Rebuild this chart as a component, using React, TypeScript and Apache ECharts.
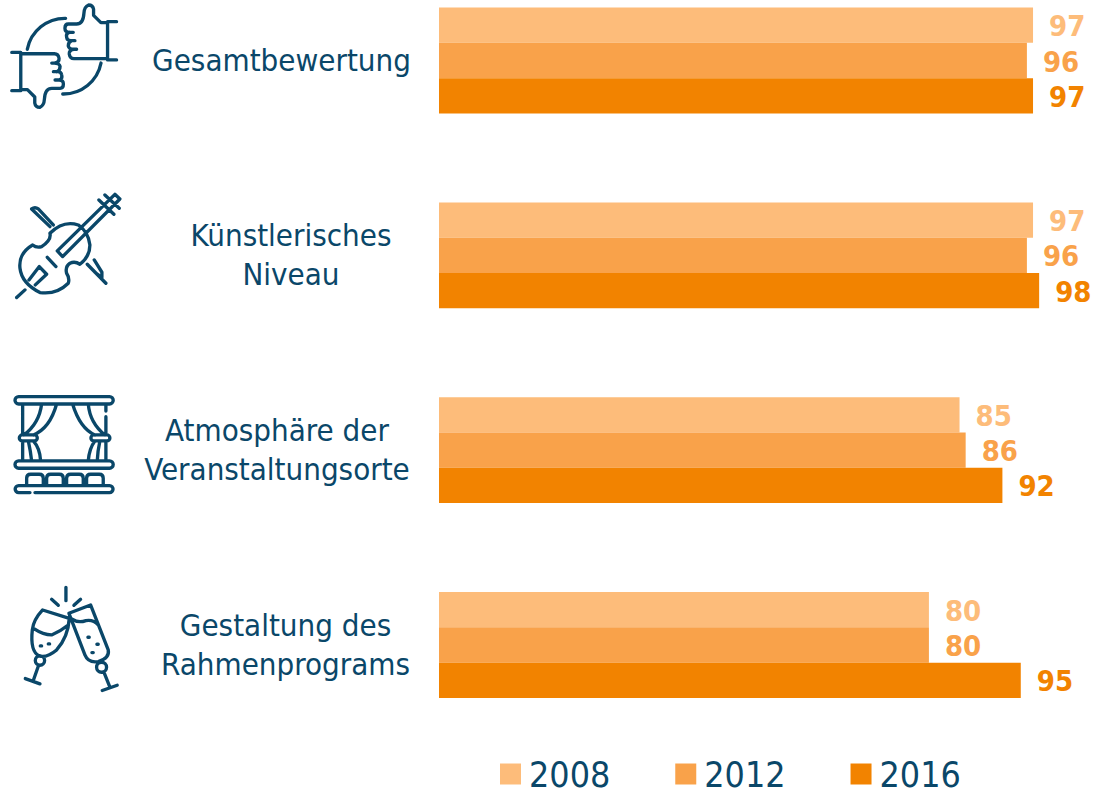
import React, { useEffect, useRef } from "react";
import * as echarts from "echarts";

const categories = [
  "Gesamtbewertung",
  "Künstlerisches\nNiveau",
  "Atmosphäre der\nVeranstaltungsorte",
  "Gestaltung des\nRahmenprograms",
];
const years = ["2008", "2012", "2016"];
const values2008 = [97, 97, 85, 80];
const values2012 = [96, 96, 86, 80];
const values2016 = [97, 98, 92, 95];
const seriesValues = [values2008, values2012, values2016];
const colors = ["#FDBC7A", "#F9A24A", "#F28300"];
const ink = "#0A4769";
const font = "'DejaVu Sans Condensed', 'DejaVu Sans', sans-serif";
const labelWidths = [257, 238, 266, 249];

const thumb =
  "M82 148A115 115 0 0 1 197 55M350 65H323V180H350M323 68H303L281 46V28Q279 15 266 15Q253 20 252 40Q250 72 230 72H205Q195 72 195 85Q195 97 208 97H220M208 97Q197 100 200 112Q202 124 215 122H225M215 122Q205 126 205 138Q207 148 222 148H230M222 148Q207 150 208 162Q210 176 222 176H323";
const violin =
  "M150 145Q155 165 125 185Q110 190 98 180Q55 205 60 250Q65 295 120 323Q170 330 205 295Q210 280 200 265Q195 245 210 235Q225 228 240 238Q270 215 270 180Q265 140 235 120Q190 105 150 145ZM172 198L345 28L360 42L188 215ZM297 45L342 88M315 30L358 70M75 315L50 338M142 217L168 245M87 285L118 245L140 268L106 300M160 120L115 72Q105 65 95 72L150 125M262 238L318 295M283 225L306 262V278L285 262";
const stage =
  "M56 35H329A11 11 0 0 1 329 57H56A11 11 0 0 1 56 35ZM56 228H329A11 11 0 0 1 329 250H56A11 11 0 0 1 56 228ZM105 302H329A10 10 0 0 1 329 323H105M90 323H56A10 10 0 0 1 56 302H105M68 57V150M318 57V78M318 95V150M68 168V228M318 168V228M125 57Q118 115 72 150M170 57Q150 130 100 150M67 150H103A9 9 0 0 1 103 168H67A9 9 0 0 1 67 150ZM85 168Q92 200 95 228M100 168Q120 190 122 228M218 57Q240 130 285 150M265 57Q270 115 315 150M282 150H321A9 9 0 0 1 321 168H282A9 9 0 0 1 282 150ZM300 168Q293 200 292 228M285 168Q268 190 265 228M80 302V280Q80 268 92 268H118Q130 268 130 280V302M140 302V280Q140 268 152 268H178Q190 268 190 280V302M200 302V280Q200 268 212 268H238Q250 268 250 280V302M260 302V280Q260 268 272 268H298Q310 268 310 280V302";
const glasses =
  "M128 90L208 115Q205 170 170 210Q140 235 118 228Q90 215 97 150Q100 120 128 90ZM103 147Q130 165 155 165Q180 155 205 135M106 242a14 14 0 1 0 28 0a14 14 0 1 0 -28 0M116 256L100 302M76 296L120 312M121 198h4M145 192h4M207 100L272 75L325 210Q330 235 295 245Q265 250 255 225ZM218 118Q235 130 258 122Q280 118 295 135M290 262a15 15 0 1 0 30 0a15 15 0 1 0 -30 0M312 277L330 322M307 332L352 316M264 172h4M291 193h4M276 218h4M198 22V62M155 58L175 76M242 58L222 76";

echarts.graphic.registerShape("iconThumb", echarts.graphic.extendPath(thumb, {}));
echarts.graphic.registerShape("iconViolin", echarts.graphic.extendPath(violin, {}));
echarts.graphic.registerShape("iconStage", echarts.graphic.extendPath(stage, {}));
echarts.graphic.registerShape("iconGlasses", echarts.graphic.extendPath(glasses, {}));

export default function App() {
  const ref = useRef<HTMLDivElement>(null);
  useEffect(() => {
    document.body.style.margin = "0";
    const chart = echarts.init(ref.current!, undefined, { renderer: "svg" });
    const stroke = { fill: "none", stroke: ink, lineWidth: 10, lineCap: "round", lineJoin: "round" };
    const icon = (type: string, x: number, y: number, rotation = 0) => ({
      type, x, y, rotation, scaleX: 1 / 3, scaleY: 1 / 3, style: stroke, silent: true,
    });
    const rich: Record<string, any> = {};
    labelWidths.forEach((w, i) => {
      rich["r" + i] = {
        width: w, align: "center", fontFamily: font, fontSize: 31, lineHeight: 39, color: ink,
      };
    });
    chart.setOption({
      animation: false,
      grid: { left: 439, top: 60.5, width: 612.4, height: 584.5 },
      xAxis: { type: "value", min: 0, max: 100, show: false },
      yAxis: {
        type: "category",
        inverse: true,
        boundaryGap: false,
        data: categories,
        axisLine: { show: false },
        axisTick: { show: false },
        axisLabel: {
          margin: 29,
          align: "right",
          interval: 0,
          padding: [0, 0, 2, 0],
          formatter: (v: string) => {
            const i = categories.indexOf(v);
            return v.split("\n").map((s) => `{r${i}|${s}}`).join("\n");
          },
          rich,
        },
      },
      legend: {
        left: 495,
        top: 751,
        padding: 5,
        itemWidth: 21,
        itemHeight: 21,
        itemGap: 65,
        icon: "rect",
        data: years,
        textStyle: { fontFamily: font, fontSize: 35.5, lineHeight: 30, color: ink, padding: [0, 0, 0, 3] },
      },
      series: years.map((y, i) => ({
        name: y,
        type: "bar",
        data: seriesValues[i],
        barWidth: 35.3,
        barGap: 0,
        itemStyle: { color: colors[i] },
        label: {
          show: true,
          position: "right",
          distance: 16,
          offset: [0, 1],
          fontFamily: font,
          fontSize: 29,
          fontWeight: "bold",
          color: colors[i],
        },
      })),
      graphic: [
        icon("iconThumb", 0, 0),
        icon("iconThumb", 385 / 3, 337 / 3, Math.PI),
        icon("iconViolin", 0, 185),
        icon("iconStage", 0, 385),
        icon("iconGlasses", 0, 580),
      ],
    });
    return () => chart.dispose();
  }, []);
  return <div ref={ref} style={{ width: 1094, height: 789, position: "absolute", left: 0, top: 0, overflow: "hidden" }} />;
}
